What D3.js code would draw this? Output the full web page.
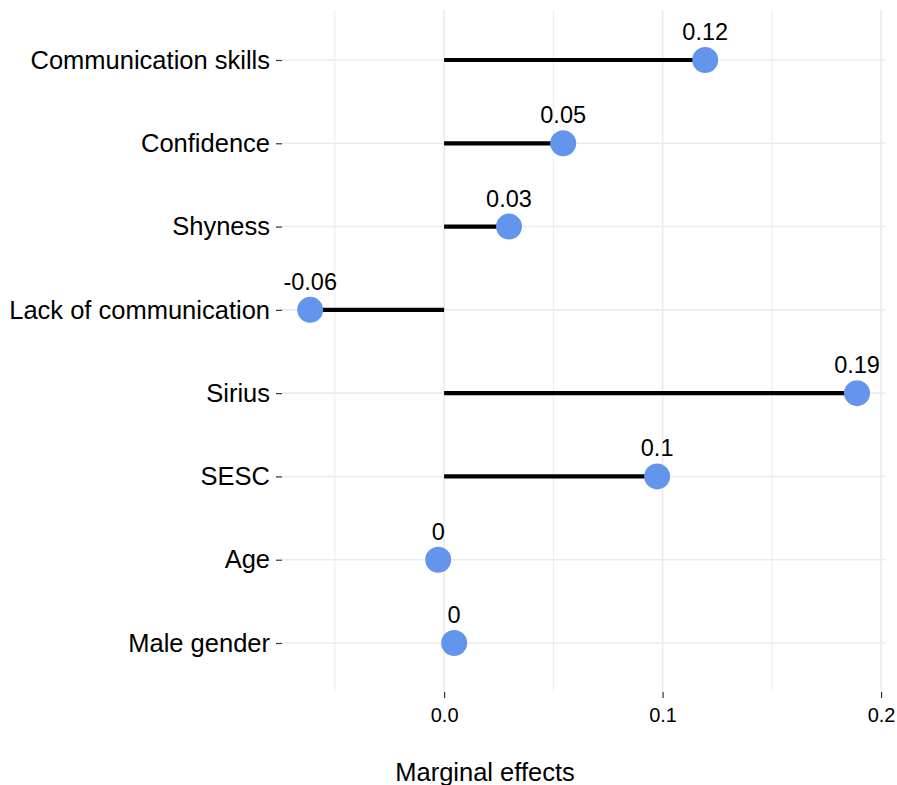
<!DOCTYPE html>
<html>
<head>
<meta charset="utf-8">
<script src="https://cdn.jsdelivr.net/npm/d3@7"></script>
<style>
  body { margin: 0; background: #fff; }
  svg { font-family: "Liberation Sans", Arial, sans-serif; }
</style>
</head>
<body>
<div id="chart"></div>
<script>
// Marginal effects lollipop chart
const categories = ["Communication skills", "Confidence", "Shyness", "Lack of communication",
                    "Sirius", "SESC", "Age", "Male gender"];
const effects = [0.1195, 0.0545, 0.0297, -0.0613, 0.189, 0.0975, -0.0027, 0.0046];
const valueLabels = ["0.12", "0.05", "0.03", "-0.06", "0.19", "0.1", "0", "0"];
const xTicks = [0, 0.1, 0.2];
const xMinor = [-0.05, 0.05, 0.15];

const width = 897, height = 785;
const panel = { left: 282, right: 885, top: 10, bottom: 692 };

const svg = d3.select("#chart").append("svg")
  .attr("width", width).attr("height", height);

const x = d3.scaleLinear()
  .domain([-0.0742, 0.2018])
  .range([panel.left, panel.right]);

const y = d3.scalePoint()
  .domain(categories)
  .range([60, 643]);

// GRID
const grid = svg.append("g");
grid.selectAll(".minor").data(xMinor).join("line")
  .attr("x1", d => x(d)).attr("x2", d => x(d))
  .attr("y1", panel.top).attr("y2", panel.bottom)
  .style("stroke", "#ebebeb").style("stroke-width", 1);
grid.selectAll(".major").data(xTicks).join("line")
  .attr("x1", d => x(d)).attr("x2", d => x(d))
  .attr("y1", panel.top).attr("y2", panel.bottom)
  .style("stroke", "#ebebeb").style("stroke-width", 1.6);
grid.selectAll(".hmajor").data(categories).join("line")
  .attr("x1", panel.left).attr("x2", panel.right)
  .attr("y1", d => y(d)).attr("y2", d => y(d))
  .style("stroke", "#ebebeb").style("stroke-width", 1.6);

// STEMS
const rows = categories.map((c, i) => ({ cat: c, v: effects[i], lab: valueLabels[i] }));

svg.append("g").selectAll("line").data(rows).join("line")
  .attr("x1", x(0)).attr("x2", d => x(d.v))
  .attr("y1", d => y(d.cat)).attr("y2", d => y(d.cat))
  .style("stroke", "#000").style("stroke-width", 4.2);

// DOTS
svg.append("g").selectAll("circle").data(rows).join("circle")
  .attr("cx", d => x(d.v)).attr("cy", d => y(d.cat))
  .attr("r", 13)
  .style("fill", "#6495ED");

// VALUE LABELS
svg.append("g").selectAll("text").data(rows).join("text")
  .attr("x", d => x(d.v)).attr("y", d => y(d.cat) - 20)
  .attr("text-anchor", "middle")
  .style("font-size", "23.5px").style("fill", "#000")
  .text(d => d.lab);

// AXES
const yAxis = svg.append("g")
  .attr("transform", `translate(${panel.left},0)`)
  .call(d3.axisLeft(y).tickSize(6).tickPadding(6));
yAxis.select(".domain").remove();
yAxis.selectAll(".tick line").style("stroke", "#333").style("stroke-width", 1.2);
yAxis.selectAll(".tick text").style("font-size", "25.5px").style("fill", "#000")
  .attr("font-family", null);

const xAxis = svg.append("g")
  .attr("transform", `translate(0,${panel.bottom})`)
  .call(d3.axisBottom(x).tickValues(xTicks).tickFormat(d3.format(".1f")).tickSize(6).tickPadding(10));
xAxis.select(".domain").remove();
xAxis.selectAll(".tick line").style("stroke", "#333").style("stroke-width", 1.2);
xAxis.selectAll(".tick text").style("font-size", "20px").style("fill", "#000")
  .attr("font-family", null);

// AXIS TITLE
svg.append("text")
  .attr("x", 485).attr("y", 781)
  .attr("text-anchor", "middle")
  .style("font-size", "25.5px").style("fill", "#000")
  .text("Marginal effects");
</script>
</body>
</html>
